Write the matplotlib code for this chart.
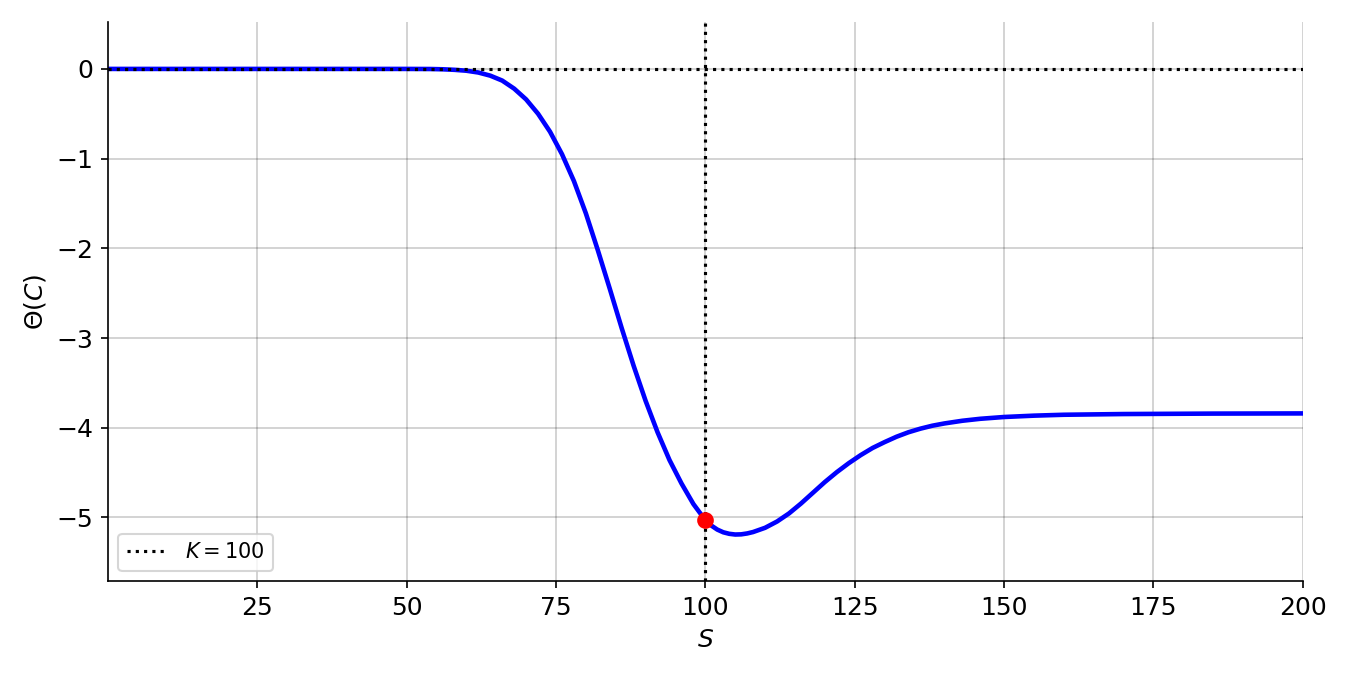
import matplotlib
matplotlib.use('Agg')
import matplotlib.pyplot as plt

# underlying price S and call theta
S = [0.01, 10, 20, 30, 40, 50, 54, 56, 58, 60, 62, 64, 66, 68, 70, 72, 74, 76,
     78, 80, 82, 84, 86, 88, 90, 92, 94, 96, 98, 100, 101, 102, 103, 104, 105,
     106, 107, 108, 110, 112, 114, 116, 118, 120, 122, 124, 126, 128, 130, 132,
     134, 136, 138, 140, 143, 146, 150, 155, 160, 170, 185, 200]
theta = [0.0, 0.0, 0.0, 0.0, 0.0, 0.0, -0.001, -0.004, -0.01, -0.02, -0.04,
         -0.075, -0.13, -0.22, -0.34, -0.50, -0.70, -0.95, -1.25, -1.61, -2.02,
         -2.45, -2.89, -3.31, -3.70, -4.05, -4.36, -4.62, -4.85, -5.03, -5.09,
         -5.135, -5.165, -5.182, -5.19, -5.188, -5.178, -5.162, -5.115, -5.045,
         -4.955, -4.845, -4.725, -4.605, -4.495, -4.395, -4.305, -4.225, -4.16,
         -4.10, -4.05, -4.01, -3.977, -3.952, -3.922, -3.90, -3.88, -3.865,
         -3.855, -3.847, -3.842, -3.84]
K = 100
theta_at_K = -5.03

plt.rcParams['font.size'] = 12

fig, ax = plt.subplots(figsize=(9, 4.5), dpi=150)
ax.plot(S, theta, color='blue', lw=2.2)
ax.axhline(0, color='k', ls=':', lw=1.5)
ax.axvline(K, color='k', ls=':', lw=1.5, label=r'$K = 100$')
ax.plot(K, theta_at_K, 'o', color='red', ms=7, zorder=5)

ax.set_xlim(0.01, 200)
ax.set_ylim(-5.71, 0.52)
ax.set_xticks([25, 50, 75, 100, 125, 150, 175, 200])
ax.set_yticks([0, -1, -2, -3, -4, -5])
ax.set_xlabel(r'$S$')
ax.set_ylabel(r'$\Theta(C)$')
ax.grid(color='k', alpha=0.2)
ax.spines['top'].set_visible(False)
ax.spines['right'].set_visible(False)
ax.legend(loc='lower left', fontsize=10)

fig.subplots_adjust(left=0.08, right=0.965, top=0.967, bottom=0.139)
fig.savefig('out.png', dpi=150)
plt.close(fig)
